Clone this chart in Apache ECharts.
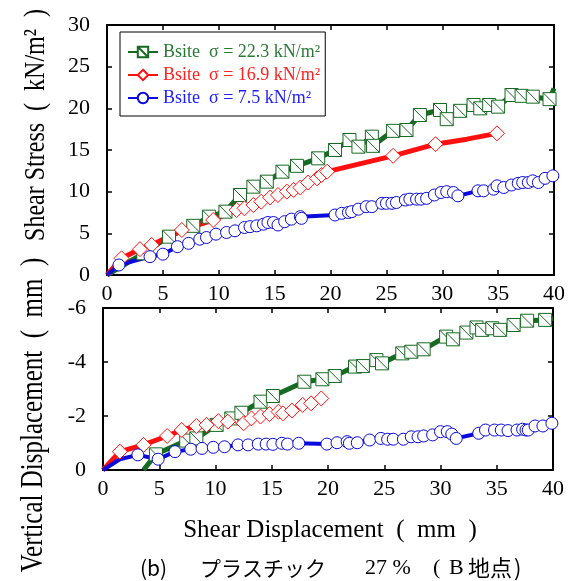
<!DOCTYPE html>
<html><head><meta charset="utf-8">
<script src="https://cdn.jsdelivr.net/npm/echarts@6/dist/echarts.min.js"></script>
<style>html,body{margin:0;padding:0;background:#fff}#c{width:573px;height:581px}</style>
</head><body><div id="c"></div>
<script>
// ---- data ----
const seriesNames = ['Bsite  σ = 22.3 kN/m²', 'Bsite  σ = 16.9 kN/m²', 'Bsite  σ = 7.5 kN/m²'];
const xTickLabels = [0,5,10,15,20,25,30,35,40];
const stressTicks = [0,5,10,15,20,25,30];
const vdispTicks = [-6,-4,-2,0];

// Shear stress (top) — points with markers
const greenStress = [[3.25,2.6],[5.55,4.6],[7.72,5.9],[9.12,7.0],[10.6,7.6],[11.9,9.6],[13.1,10.6],[14.3,11.2],[15.7,12.4],[17.0,13.1],[18.9,14.0],[20.4,15.0],[21.7,16.2],[22.5,15.4],[23.7,16.6],[23.8,15.5],[25.6,17.3],[26.8,17.4],[28.0,19.2],[29.8,19.8],[30.4,18.7],[31.6,19.7],[32.8,20.4],[33.4,20.0],[34.2,20.4],[35.0,20.2],[36.2,21.6],[37.1,21.5],[38.1,21.4],[39.6,21.1]];
const greenStressLine = [[0,0],[40,22.4]];
const redStress = [[1.3,2.0],[2.95,3.1],[4.0,3.6],[6.7,5.4],[9.5,6.6],[11.6,7.8],[12.3,8.0],[13.1,8.4],[13.8,8.8],[14.6,9.3],[15.3,9.6],[16.1,10.0],[16.7,10.2],[17.3,10.5],[18.0,11.1],[18.8,11.6],[19.2,12.0],[19.7,12.4],[25.6,14.3],[29.4,15.7],[34.9,17.0]];
const redStressLine = [[0,0],[32.2,16.3]];
const blueStress = [[1.07,1.2],[3.85,2.2],[5.0,2.5],[6.3,3.4],[7.3,3.8],[8.3,4.3],[8.9,4.5],[9.75,4.9],[10.7,5.1],[11.45,5.3],[12.3,5.7],[12.8,5.8],[13.4,5.9],[14.0,6.1],[14.4,6.3],[14.9,6.3],[15.3,6.0],[15.9,6.4],[16.5,6.7],[17.3,7.0],[17.4,6.8],[20.4,7.2],[21.0,7.4],[21.6,7.5],[21.9,7.6],[22.5,7.9],[23.2,8.2],[23.7,8.2],[24.6,8.6],[25.0,8.6],[25.5,8.6],[25.9,8.7],[26.7,9.0],[27.1,9.1],[27.7,9.1],[28.1,9.1],[28.6,9.2],[29.3,9.6],[29.9,9.9],[30.4,10.0],[31.0,9.9],[31.4,9.5],[33.2,10.1],[33.7,10.1],[34.6,10.3],[34.9,10.7],[35.5,10.5],[36.2,10.8],[36.8,11.0],[37.2,11.1],[37.7,11.1],[38.1,11.3],[38.6,11.1],[39.2,11.6],[39.9,11.9]];
const blueStressLine = [[0,0]];

// Vertical displacement (bottom)
const greenVd = [[4.7,-0.58],[7.4,-1.09],[8.3,-1.17],[10.1,-1.67],[11.4,-1.91],[12.3,-2.12],[14.0,-2.53],[15.1,-2.74],[17.9,-3.27],[19.5,-3.36],[20.6,-3.48],[22.4,-3.83],[23.1,-3.85],[24.3,-4.07],[24.8,-3.95],[26.6,-4.32],[27.4,-4.38],[28.5,-4.47],[30.5,-4.94],[31.1,-4.84],[32.3,-5.09],[33.2,-5.28],[33.7,-5.19],[34.6,-5.25],[35.3,-5.19],[36.5,-5.37],[37.7,-5.53],[39.3,-5.56]];
const greenVdLine = [[3.6,0],[16.3,-2.96],[40,-5.62]];
const redVd = [[1.5,-0.68],[3.6,-0.93],[5.7,-1.26],[7.0,-1.48],[8.3,-1.63],[9.2,-1.67],[10.25,-1.81],[11.1,-1.79],[12.5,-1.73],[13.2,-1.91],[14.0,-1.98],[14.8,-2.07],[15.6,-2.16],[16.0,-2.10],[16.8,-2.20],[17.75,-2.41],[18.5,-2.47],[19.4,-2.65]];
const redVdLine = [[0,0]];
const blueVd = [[3.1,-0.56],[4.9,-0.40],[6.4,-0.68],[7.8,-0.77],[8.8,-0.80],[9.8,-0.84],[10.8,-0.86],[12.0,-0.93],[12.9,-0.93],[13.8,-0.96],[14.5,-0.96],[15.1,-0.95],[15.9,-0.99],[16.4,-0.96],[17.4,-0.99],[19.9,-0.96],[20.8,-1.01],[21.7,-1.05],[21.9,-0.99],[22.6,-1.01],[23.7,-1.11],[24.7,-1.17],[25.3,-1.14],[25.8,-1.14],[26.7,-1.14],[27.4,-1.23],[28.0,-1.23],[28.5,-1.26],[29.3,-1.30],[30.0,-1.42],[30.6,-1.42],[31.0,-1.33],[31.4,-1.17],[33.4,-1.36],[34.0,-1.48],[34.8,-1.48],[35.4,-1.48],[36.0,-1.46],[36.8,-1.48],[37.3,-1.51],[37.6,-1.48],[37.8,-1.48],[38.4,-1.63],[39.1,-1.63],[39.9,-1.73]];
const blueVdLine = [[0,0],[1.5,-0.4]];

// ---- styling / build ----
const GREEN = '#176a22', RED = '#ff1010', BLUE = '#0a0adc';
const TXT_GREEN = '#2a7a36', TXT_RED = '#ff2020', TXT_BLUE = '#2020ff';
const SQUARE = 'path://M0,0L10,0L10,10L0,10ZM0,0L10,10';
const FONT = 'Liberation Serif';
const CJK = 'Noto Sans CJK JP';

function build(marked, plain) {
  const pts = marked.map(p => ({value: p})).concat(plain.map(p => ({value: p, symbol: 'none'})));
  pts.sort((a, b) => a.value[0] - b.value[0]);
  return pts;
}
function mk(name, color, symbol, size, lw, xi, yi, data) {
  return {
    name: name, type: 'line', xAxisIndex: xi, yAxisIndex: yi, data: data,
    symbol: symbol, symbolSize: size, showAllSymbol: true,
    lineStyle: {color: color, width: lw},
    itemStyle: {color: '#fff', borderColor: color, borderWidth: 1},
    emphasis: {disabled: true}, animation: false
  };
}
const labelStyle = {fontFamily: FONT, fontSize: 22, color: '#000'};
function xAx(grid, main) {
  return {type: 'value', gridIndex: grid, min: 0, max: 40, interval: 5, position: main ? 'bottom' : 'top',
    axisLine: {show: true, onZero: false, lineStyle: {color: '#000', width: 2}},
    axisTick: {show: true, inside: true, length: 5, lineStyle: {color: '#000', width: 1.5}},
    axisLabel: main ? Object.assign({show: true, margin: 8, showMinLabel: true, showMaxLabel: true}, labelStyle) : {show: false},
    splitLine: {show: false}};
}
function yAx(grid, main, min, max, interval, inverse) {
  return {type: 'value', gridIndex: grid, min: min, max: max, interval: interval, inverse: inverse, position: main ? 'left' : 'right',
    axisLine: {show: true, onZero: false, lineStyle: {color: '#000', width: 2}},
    axisTick: {show: true, inside: true, length: 5, lineStyle: {color: '#000', width: 1.5}},
    axisLabel: main ? Object.assign({show: true, margin: 17, showMinLabel: true, showMaxLabel: true}, labelStyle) : {show: false},
    splitLine: {show: false}};
}
function txt(s, x, y, size, fam, extra) {
  const el = {type: 'text', x: x, y: y,
    style: {text: s, fontFamily: fam, fontSize: size, fill: '#000', align: 'left', verticalAlign: 'middle'}};
  if (extra) {
    if (extra.align) el.style.align = extra.align;
    if (extra.rotation !== undefined) el.rotation = extra.rotation;
    if (extra.scaleY) el.scaleY = extra.scaleY;
  }
  return el;
}

const chart = echarts.init(document.getElementById('c'), null, {renderer: 'canvas'});
chart.setOption({
  backgroundColor: '#fff',
  animation: false,
  textStyle: {fontFamily: FONT},
  grid: [
    {left: 107, top: 25, width: 447, height: 250},
    {left: 103, top: 308, width: 450, height: 162}
  ],
  xAxis: [xAx(0, true), xAx(0, false), xAx(1, true), xAx(1, false)],
  yAxis: [yAx(0, true, 0, 30, 5, false), yAx(0, false, 0, 30, 5, false),
          yAx(1, true, -6, 0, 2, true), yAx(1, false, -6, 0, 2, true)],
  legend: {
    show: true, orient: 'vertical', left: 120, top: 32,
    backgroundColor: '#fff', borderColor: '#000', borderWidth: 1,
    padding: [11, 5, 9, 7], itemGap: 5, itemWidth: 30, itemHeight: 13,
    textStyle: {fontFamily: FONT, fontSize: 18, lineHeight: 18},
    selectedMode: false,
    data: [
      {name: seriesNames[0], textStyle: {color: TXT_GREEN}},
      {name: seriesNames[1], textStyle: {color: TXT_RED}},
      {name: seriesNames[2], textStyle: {color: TXT_BLUE}}
    ]
  },
  series: [
    mk(seriesNames[0], GREEN, SQUARE, 13, 5, 0, 0, build(greenStress, greenStressLine)),
    mk(seriesNames[1], RED, 'diamond', 15, 5, 0, 0, build(redStress, redStressLine)),
    mk(seriesNames[2], BLUE, 'circle', 12, 4, 0, 0, build(blueStress, blueStressLine)),
    mk(seriesNames[0], GREEN, SQUARE, 13, 5, 2, 2, build(greenVd, greenVdLine)),
    mk(seriesNames[1], RED, 'diamond', 15, 5, 2, 2, build(redVd, redVdLine)),
    mk(seriesNames[2], BLUE, 'circle', 12, 4, 2, 2, build(blueVd, blueVdLine))
  ],
  graphic: [
    txt('Shear Stress  (  kN/m²  )', 36, 125, 24, FONT, {align: 'center', rotation: Math.PI / 2, scaleY: 1.25}),
    txt('Vertical Displacement  (  mm  )', 34, 415, 25, FONT, {align: 'center', rotation: Math.PI / 2, scaleY: 1.25}),
    txt('Shear Displacement  (  mm  )', 330, 530, 25, FONT, {align: 'center'}),
    txt('(b)', 140, 568, 21, CJK),
    txt('プラスチック', 200, 568, 21, CJK),
    txt('27 %', 365, 568, 22, FONT),
    txt('(', 433, 568, 22, FONT),
    txt('B', 449, 568, 22, FONT),
    txt('地点', 468, 568, 22, CJK),
    txt(')', 514, 568, 22, CJK)
  ]
});
</script>
</body></html>
